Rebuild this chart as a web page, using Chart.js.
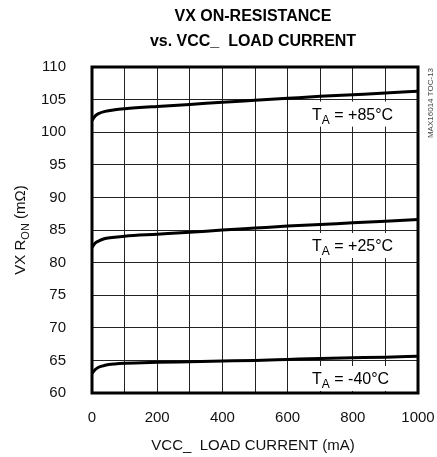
<!DOCTYPE html>
<html>
<head>
<meta charset="utf-8">
<script src="https://cdn.jsdelivr.net/npm/chart.js@4/dist/chart.umd.min.js"></script>
<style>
  body { margin: 0; background: #fff; }
  canvas { display: block; }
</style>
</head>
<body>
<canvas id="ronChart" width="437" height="457"></canvas>
<script>
/// === DATA === ///
const loadCurrent = [0, 10, 20, 40, 70, 100, 200, 300, 400, 500, 600, 700, 800, 900, 1000];
const ron85 = [101.8, 102.5, 102.85, 103.2, 103.45, 103.6, 103.95, 104.25, 104.6, 104.9, 105.2, 105.5, 105.75, 106.0, 106.3];
const ron25 = [82.3, 83.0, 83.3, 83.7, 83.9, 84.05, 84.35, 84.65, 85.0, 85.3, 85.6, 85.85, 86.1, 86.35, 86.6];
const ronMinus40 = [63.0, 63.6, 63.95, 64.25, 64.45, 64.55, 64.7, 64.8, 64.9, 65.0, 65.15, 65.3, 65.4, 65.5, 65.65];

const xGrid = [0, 100, 200, 300, 400, 500, 600, 700, 800, 900, 1000];
const xTicks = [0, 200, 400, 600, 800, 1000];
const yTicks = [60, 65, 70, 75, 80, 85, 90, 95, 100, 105, 110];

const tempLabels = ['+85°C', '+25°C', '-40°C'];
// where each TA label sits (mA, mOhm)
const labelAnchors = [[675, 102.85], [675, 82.7], [675, 62.3]];

const FONT = '"Liberation Sans", Arial, sans-serif';

const toPoints = ys => loadCurrent.map((x, i) => ({ x: x, y: ys[i] }));

const curve = ys => ({
  data: toPoints(ys),
  borderColor: '#000',
  borderWidth: 3,
  pointRadius: 0,
  showLine: true,
  fill: false,
  cubicInterpolationMode: 'monotone'
});

//draw "T" + subscript "A" + rest
const drawSubText = (ctx, x, y, main, sub, rest, size, subSize) => {
  ctx.textBaseline = 'alphabetic';
  ctx.textAlign = 'left';
  ctx.font = size + 'px ' + FONT;
  ctx.fillText(main, x, y);
  let cx = x + ctx.measureText(main).width;
  ctx.font = subSize + 'px ' + FONT;
  ctx.fillText(sub, cx, y + 4);
  cx += ctx.measureText(sub).width;
  ctx.font = size + 'px ' + FONT;
  ctx.fillText(rest, cx, y);
  return cx + ctx.measureText(rest).width - x;
};

const decorations = {
  id: 'decorations',
  afterDatasetsDraw(chart) {
    const { ctx, chartArea: a, scales } = chart;
    ctx.save();

    // temperature labels with white boxes
    labelAnchors.forEach((pos, i) => {
      const px = scales.x.getPixelForValue(pos[0]);
      const py = scales.y.getPixelForValue(pos[1]);
      ctx.fillStyle = '#fff';
      ctx.fillRect(px - 9, py - 12, 98, 25);
      ctx.fillStyle = '#000';
      drawSubText(ctx, px, py + 6, 'T', 'A', ' = ' + tempLabels[i], 16, 12);
    });

    // plot frame
    ctx.strokeStyle = '#000';
    ctx.lineWidth = 3;
    ctx.strokeRect(a.left, a.top, a.right - a.left, a.bottom - a.top);

    // title
    const cx = (a.left + a.right) / 2 - 2;
    ctx.fillStyle = '#000';
    ctx.textAlign = 'center';
    ctx.textBaseline = 'alphabetic';
    ctx.font = 'bold 16px ' + FONT;
    ctx.fillText('VX ON-RESISTANCE', cx, 21);
    ctx.fillText('vs. VCC_  LOAD CURRENT', cx, 46);

    // x axis title
    ctx.font = '15px ' + FONT;
    ctx.fillStyle = '#111';
    ctx.fillText('VCC_  LOAD CURRENT (mA)', cx, 450);

    // y axis title (rotated, with subscript)
    ctx.save();
    ctx.translate(25, (a.top + a.bottom) / 2);
    ctx.rotate(-Math.PI / 2);
    ctx.font = '15px ' + FONT;
    const w1 = ctx.measureText('VX R').width;
    ctx.font = '11px ' + FONT;
    const w2 = ctx.measureText('ON').width;
    ctx.font = '15px ' + FONT;
    const w3 = ctx.measureText(' (mΩ)').width;
    drawSubText(ctx, -(w1 + w2 + w3) / 2, 0, 'VX R', 'ON', ' (mΩ)', 15, 11);
    ctx.restore();

    // side code
    ctx.save();
    ctx.translate(433, 103);
    ctx.rotate(-Math.PI / 2);
    ctx.font = '8px ' + FONT;
    ctx.fillStyle = '#444';
    ctx.textAlign = 'center';
    ctx.fillText('MAX16014 TOC-13', 0, 0);
    ctx.restore();

    ctx.restore();
  }
};

new Chart(document.getElementById('ronChart'), {
  type: 'scatter',
  data: {
    datasets: [curve(ron85), curve(ron25), curve(ronMinus40)]
  },
  options: {
    responsive: false,
    animation: false,
    layout: { padding: { left: 0, top: 67, right: 19, bottom: 0 } },
    plugins: {
      legend: { display: false },
      title: { display: false },
      tooltip: { enabled: false }
    },
    scales: {
      x: {
        type: 'linear',
        min: 0,
        max: 1000,
        afterBuildTicks: s => { s.ticks = xGrid.map(v => ({ value: v })); },
        afterFit: s => { s.height = 64; s.paddingLeft = 0; s.paddingRight = 0; },
        ticks: {
          callback: v => xTicks.includes(v) ? String(v) : '',
          font: { family: FONT, size: 15 },
          color: '#111',
          padding: 16,
          maxRotation: 0,
          autoSkip: false
        },
        grid: { color: '#222', lineWidth: 1, drawTicks: false },
        border: { display: false }
      },
      y: {
        type: 'linear',
        min: 60,
        max: 110,
        afterBuildTicks: s => { s.ticks = yTicks.map(v => ({ value: v })); },
        afterFit: s => { s.width = 92; s.paddingTop = 0; s.paddingBottom = 0; },
        ticks: {
          font: { family: FONT, size: 15 },
          color: '#111',
          padding: 26,
          autoSkip: false
        },
        grid: { color: '#222', lineWidth: 1, drawTicks: false },
        border: { display: false }
      }
    }
  },
  plugins: [decorations]
});
</script>
</body>
</html>
